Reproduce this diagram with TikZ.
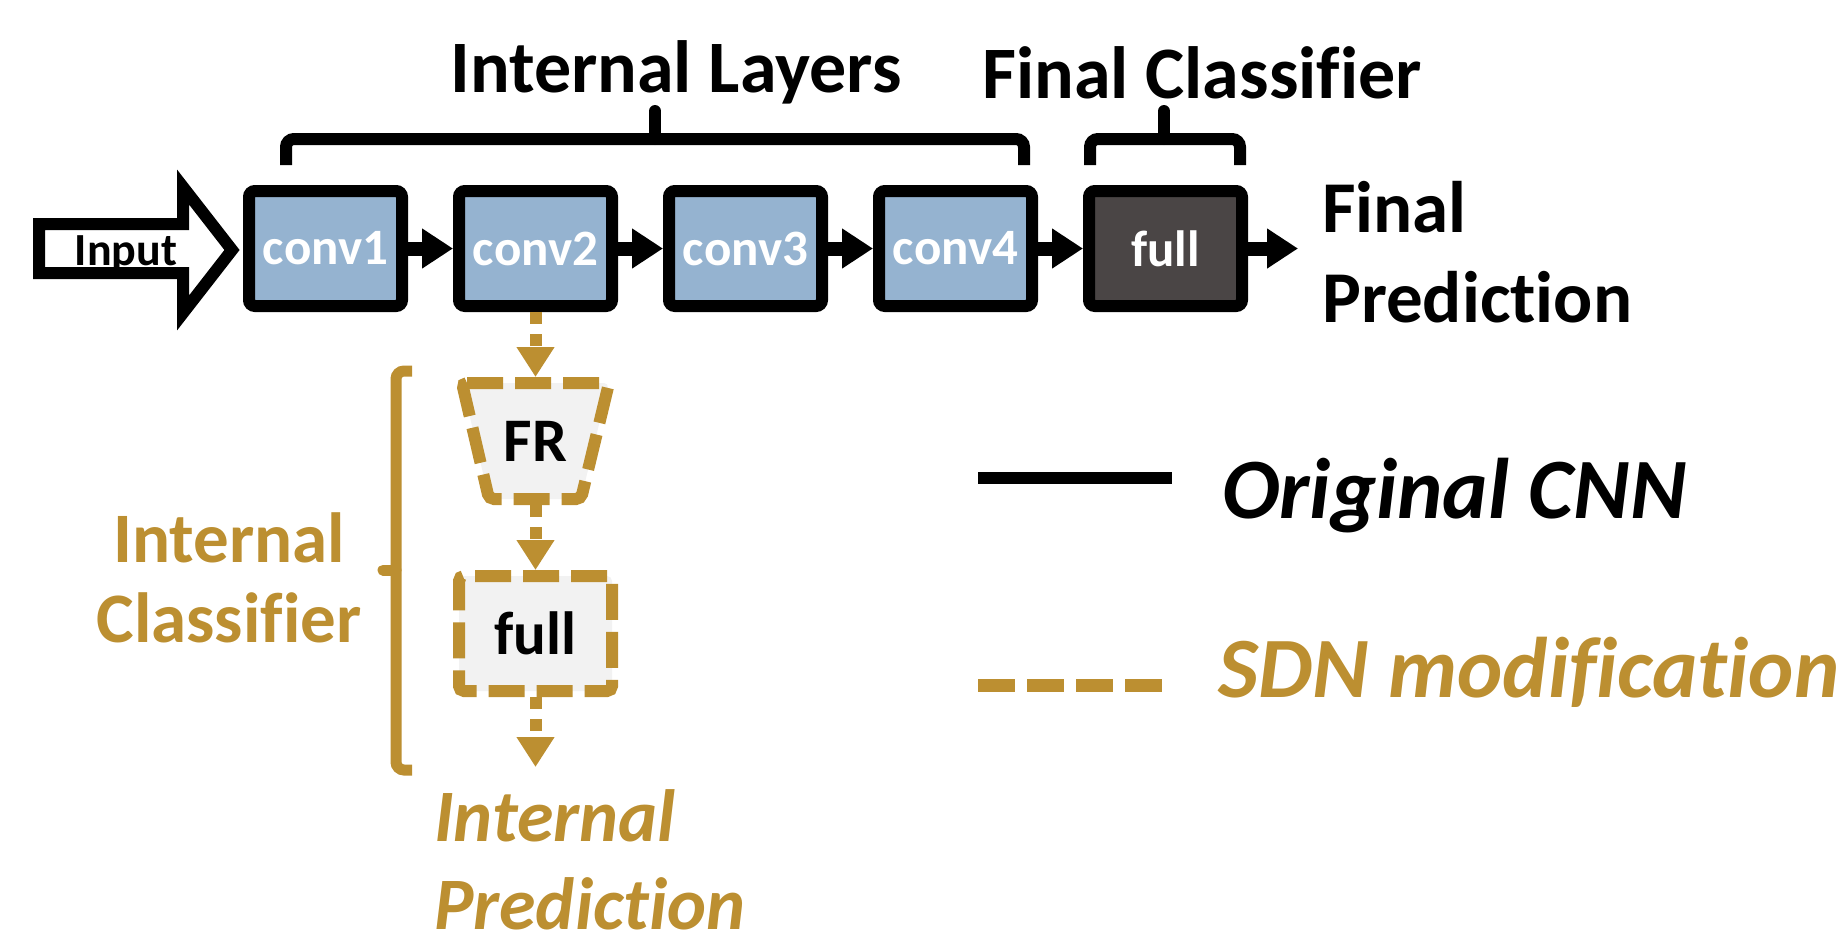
\documentclass[tikz,border=0pt]{standalone}
\usepackage{fontspec}
\setmainfont{Carlito}[Ligatures={NoCommon}]
\usetikzlibrary{arrows.meta}

\definecolor{convblue}{RGB}{149,179,208}
\definecolor{fcgray}{RGB}{74,69,69}
\definecolor{sdngold}{RGB}{188,143,49}
\definecolor{boxgray}{RGB}{242,242,242}

\newcommand{\txtsize}[2]{\fontsize{#1}{#2}\selectfont}

\tikzset{
  layer/.style={draw,line width=12pt,rounded corners=6pt,minimum width=153pt,
    minimum height=115pt,inner sep=0pt,text=white,font=\bfseries\txtsize{51}{60}},
  flow/.style={line width=14pt,-{Triangle[length=31pt,width=38pt]}},
  sdnflow/.style={sdngold,line width=12pt,dash pattern=on 12pt off 10pt,
    -{Triangle[length=30pt,width=36pt]}},
  sdnline/.style={draw=sdngold,fill=boxgray,line width=12pt,dash pattern=on 36pt off 12pt,
    rounded corners=5pt},
  sdnbox/.style={sdnline,inner sep=0pt,font=\bfseries\txtsize{61}{70}},
  brack/.style={line width=12pt,rounded corners=8pt},
  lbl/.style={inner sep=0pt},
}

\begin{document}
\begin{tikzpicture}[x=1pt,y=-1pt]
    \useasboundingbox (0,0) rectangle (1841,940);

    % input arrow
    \path[draw,line width=12pt,miter limit=4] (39,224) -- (183,224) -- (183,187) -- (232,250)
      -- (183,313) -- (183,273) -- (39,273) -- cycle;
    \node[lbl,font=\bfseries\txtsize{46}{54},anchor=base] (input) at (126,265) {Input};

    % original cnn layers
    \node[layer,fill=convblue] (conv1) at (325.5,248.5) {conv1};
    \node[layer,fill=convblue] (conv2) at (535.5,248.5) {conv2};
    \node[layer,fill=convblue] (conv3) at (745.5,248.5) {conv3};
    \node[layer,fill=convblue] (conv4) at (955.5,248.5) {conv4};
    \node[layer,fill=fcgray] (full) at (1165.5,248.5) {full};
    \coordinate (finalout) at (1298,248.5);

    \draw[flow] (conv1) -- (conv2);
    \draw[flow] (conv2) -- (conv3);
    \draw[flow] (conv3) -- (conv4);
    \draw[flow] (conv4) -- (full);
    \draw[flow] (full) -- (finalout);

    % brackets on top
    \path[draw,brack] (286,165) -- (286,139) -- (1024,139) -- (1024,165);
    \path[draw,line width=12pt,line cap=round] (655,139) -- (655,111);
    \path[draw,brack] (1090,165) -- (1090,139) -- (1240,139) -- (1240,165);
    \path[draw,line width=12pt,line cap=round] (1164,139) -- (1164,111);
    \node[lbl,font=\bfseries\txtsize{74}{86},anchor=base] (lyrlabel) at (676,92) {Internal Layers};
    \node[lbl,font=\bfseries\txtsize{74}{86},anchor=base] (fclabel) at (1202,98) {Final Classifier};

    \node[lbl,font=\bfseries\txtsize{73}{90},align=left,anchor=base west] (finalpred)
      at (1322,322) {Final\\Prediction};

    % internal classifier (sdn)
    \path[sdnline] (462,383) -- (609,383) -- (581,499) -- (489,499) -- cycle;
    \node[lbl,font=\bfseries\txtsize{62}{70},minimum width=147pt,minimum height=116pt,
      outer sep=6pt] (fr) at (535.5,441) {FR};
    \node[sdnbox,minimum width=153pt,minimum height=115pt] (icfull) at (535.5,633.5) {full};
    \coordinate (intout) at (535.5,767);

    \draw[sdnflow] (conv2) -- (fr);
    \draw[sdnflow] (fr) -- (icfull);
    \draw[sdnflow] (icfull) -- (intout);

    \path[draw,sdngold,line width=11pt,rounded corners=8pt] (412,371) -- (396,371) -- (396,770) -- (412,770);
    \path[draw,sdngold,line width=11pt,line cap=round] (396,570) -- (383,570);
    \node[lbl,text=sdngold,font=\bfseries\txtsize{71}{80},align=center,anchor=base] (iclabel)
      at (229,642) {Internal\\Classifier};
    \node[lbl,text=sdngold,font=\bfseries\itshape\txtsize{74}{88},align=left,anchor=base west] (intpred)
      at (434,929) {Internal\\Prediction};

    % legend
    \path[draw,line width=12pt] (978,478) -- (1172,478);
    \node[lbl,font=\bfseries\itshape\txtsize{86}{96},anchor=base west] (cnnkey) at (1222,518) {Original CNN};
    \path[draw,sdngold,line width=13pt,dash pattern=on 37pt off 12pt] (978,685) -- (1162,685);
    \node[lbl,text=sdngold,font=\bfseries\itshape\txtsize{86}{96},anchor=base west] (sdnkey)
      at (1218,697) {SDN modification};
\end{tikzpicture}
\end{document}
